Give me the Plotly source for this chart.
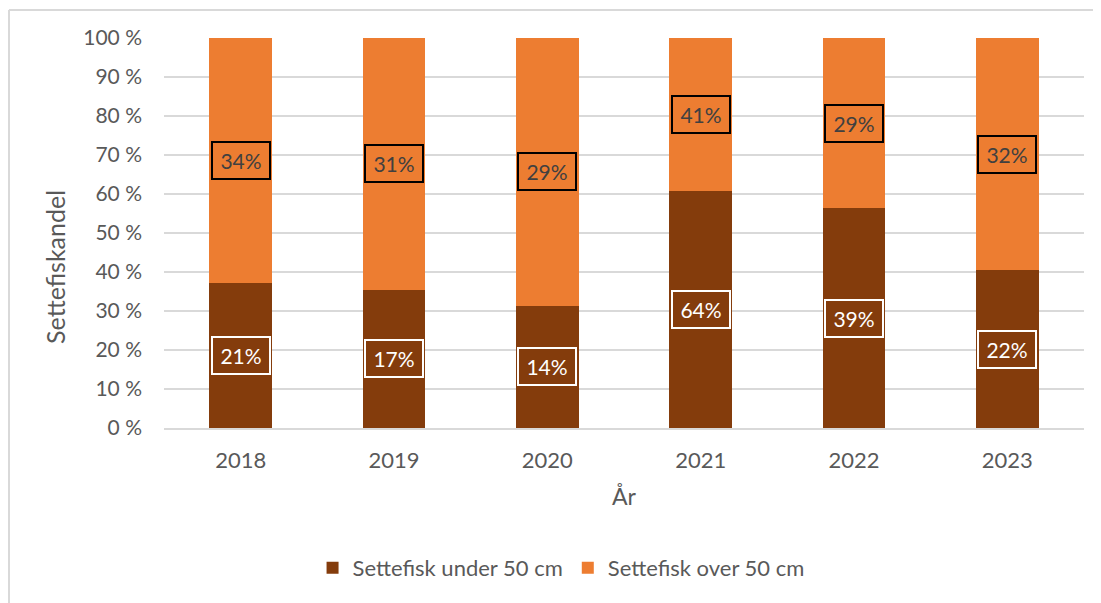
import plotly.graph_objects as go

years = ["2018", "2019", "2020", "2021", "2022", "2023"]
under_50 = [37.2, 35.4, 31.3, 60.8, 56.4, 40.5]
over_50 = [62.8, 64.6, 68.7, 39.2, 43.6, 59.5]
under_labels = ["21%", "17%", "14%", "64%", "39%", "22%"]
over_labels = ["34%", "31%", "29%", "41%", "29%", "32%"]

brown = "#843C0C"
orange = "#ED7D31"
grey_txt = "#595959"
font_name = "Lato"

fig = go.Figure()
fig.add_trace(go.Bar(x=years, y=under_50, name="Settefisk under 50 cm",
                     marker=dict(color=brown, line=dict(width=0)), width=0.41))
fig.add_trace(go.Bar(x=years, y=over_50, name="Settefisk over 50 cm",
                     marker=dict(color=orange, line=dict(width=0)), width=0.41))

# boxed data labels in the middle of each segment (x given as category index)
for i, yr in enumerate(years):
    fig.add_annotation(x=i, y=under_50[i] / 2, text=under_labels[i], showarrow=False,
                       font=dict(family=font_name, size=21, color="white"),
                       bordercolor="white", borderwidth=2, borderpad=5, width=46)
    fig.add_annotation(x=i, y=under_50[i] + over_50[i] / 2, text=over_labels[i], showarrow=False,
                       font=dict(family=font_name, size=21, color="#404040"),
                       bordercolor="black", borderwidth=2, borderpad=5, width=46)

# y axis title placed like the original (centred on chart area, not plot)
fig.add_annotation(xref="paper", yref="paper", x=-0.1185, y=0.413, text="Settefiskandel",
                   textangle=-90, showarrow=False, xanchor="center", yanchor="middle",
                   font=dict(family=font_name, size=25, color=grey_txt))

# chart frame (top and left edges)
fig.add_shape(type="line", xref="paper", yref="paper", x0=-0.1685, x1=1.02, y0=1.0718, y1=1.0718,
              line=dict(color="#d9d9d9", width=2))
fig.add_shape(type="line", xref="paper", yref="paper", x0=-0.1685, x1=-0.1685, y0=1.0718, y1=-0.46,
              line=dict(color="#d9d9d9", width=2))

fig.update_layout(
    barmode="stack",
    width=1093, height=595,
    margin=dict(l=156, r=17, t=30, b=175),
    plot_bgcolor="white", paper_bgcolor="white",
    font=dict(family=font_name, size=20, color=grey_txt),
    legend=dict(orientation="h", xref="container", yref="container", x=0.506, y=0.059,
                xanchor="center", yanchor="middle", font=dict(size=22, color=grey_txt),
                itemwidth=30, traceorder="normal"),
    xaxis=dict(type="category", range=[-0.5, len(years) - 0.5],
               title=dict(text="År", font=dict(size=23, color=grey_txt), standoff=16),
               tickfont=dict(size=22, color=grey_txt), showline=True, linecolor="#d9d9d9",
               linewidth=2, ticks="", ticklabelstandoff=12),
    yaxis=dict(range=[0, 100], tickvals=[0, 10, 20, 30, 40, 50, 60, 70, 80, 90, 100],
               ticktext=[f"{v} %" for v in range(0, 101, 10)],
               tickfont=dict(size=21, color=grey_txt), gridcolor="#d9d9d9", gridwidth=2,
               zeroline=False, ticks="", ticklabelstandoff=21),
)

fig.write_html("out.html")
